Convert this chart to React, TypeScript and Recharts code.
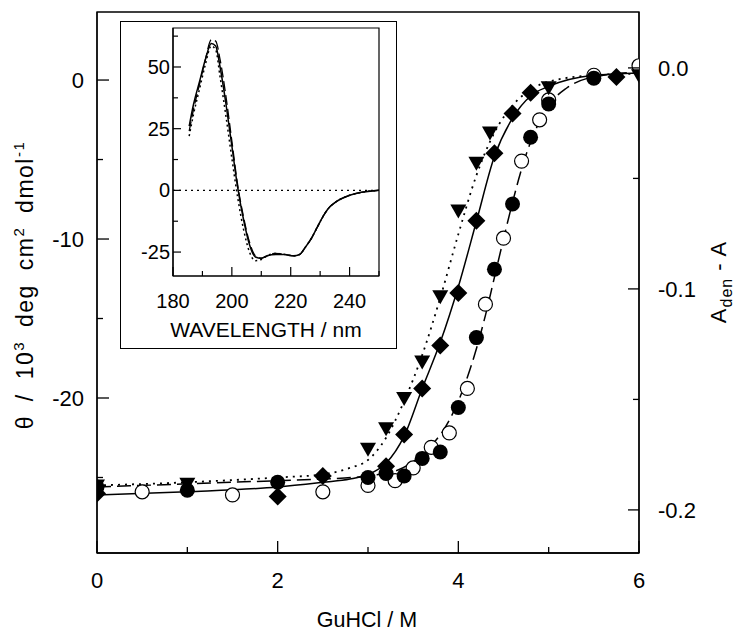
import { ComposedChart, LineChart, Line, Scatter, XAxis, YAxis, ReferenceArea, ReferenceLine } from "recharts";

const FONT = '"Liberation Sans", Arial, Helvetica, sans-serif';

// main plot: GuHCl (M) vs theta (10^3 deg cm2 dmol-1)
const triX = [0, 1, 3.0, 3.2, 3.4, 3.6, 3.8, 4.0, 4.2, 4.35, 5.0, 6.0];
const triY = [-25.5, -25.4, -23.2, -21.9, -20.0, -17.7, -13.6, -8.2, -5.2, -3.3, -0.45, 0.3];

const diaX = [0, 2, 2.5, 3.2, 3.4, 3.6, 3.8, 4.0, 4.2, 4.4, 4.6, 4.8, 5.75];
const diaY = [-26.0, -26.2, -24.9, -24.3, -22.3, -19.4, -16.7, -13.4, -8.85, -4.6, -2.1, -0.8, 0.19];

const dotX = [0, 1, 2, 3.0, 3.2, 3.4, 3.6, 3.8, 4.0, 4.2, 4.4, 4.6, 4.8, 5.0, 5.5];
const dotY = [-25.6, -25.8, -25.3, -25.0, -24.75, -24.9, -23.8, -23.4, -20.6, -16.2, -11.9, -7.8, -3.6, -1.5, 0.12];

const ringX = [0.5, 1.5, 2.5, 3.0, 3.3, 3.5, 3.7, 3.9, 4.1, 4.3, 4.5, 4.7, 4.9, 5.0, 5.5, 6.0];
const ringY = [-25.9, -26.1, -25.9, -25.5, -25.2, -24.4, -23.1, -22.2, -19.4, -14.1, -9.95, -5.1, -2.5, -1.25, 0.3, 0.9];

// fitted curves
const fitDotX = [0, 1, 2, 2.5, 2.8, 3.0, 3.2, 3.4, 3.6, 3.8, 4.0, 4.2, 4.4, 4.6, 4.8, 5.0, 5.5, 6.0];
const fitDotY = [-25.5, -25.3, -25.0, -24.8, -24.4, -23.9, -22.5, -20.2, -17.3, -13.7, -9.7, -6.0, -3.3, -1.6, -0.6, -0.1, 0.3, 0.4];

const fitSolidX = [0, 1, 2, 2.5, 2.8, 3.0, 3.2, 3.4, 3.6, 3.8, 4.0, 4.2, 4.4, 4.6, 4.8, 5.0, 5.5, 6.0];
const fitSolidY = [-26.1, -25.9, -25.6, -25.3, -25.1, -24.8, -24.1, -22.4, -19.4, -16.5, -13.0, -8.9, -4.8, -2.4, -1.0, -0.4, 0.3, 0.45];

const fitDashX = [0, 1, 2, 2.5, 3.0, 3.3, 3.5, 3.7, 3.9, 4.0, 4.1, 4.2, 4.3, 4.4, 4.5, 4.6, 4.7, 4.8, 4.9, 5.0, 5.2, 5.5, 6.0];
const fitDashY = [-25.6, -25.4, -25.2, -25.1, -24.9, -24.6, -24.0, -23.0, -21.4, -20.2, -18.7, -16.9, -14.8, -12.4, -10.0, -7.7, -5.6, -3.9, -2.6, -1.6, -0.5, 0.2, 0.5];

const xTicks = [0, 1, 2, 3, 4, 5, 6];
const leftTicks = [-25, -20, -15, -10, -5, 0];
const rightTicks = [-0.2, -0.15, -0.1, -0.05, 0];

// inset: CD spectra
const lambda = [185.5, 187, 189, 191, 193, 194.5, 196, 198, 200, 202, 204, 206, 208, 210, 212, 215, 218, 221, 223, 225, 227, 229, 231, 233, 235, 237, 240, 244, 248, 250];
const specSolid = [26, 35, 44, 53, 59.5, 58.5, 50, 35, 18, 1, -12, -22, -27, -27.5, -26.5, -26, -26, -26.5, -26, -23, -19.5, -15, -10.5, -7, -5, -3.5, -2, -0.8, -0.2, 0];
const specDash = [24, 33, 43, 53, 61, 60.5, 53, 38, 20, 2, -11, -21, -26.5, -27.5, -26.5, -25.5, -26, -26.5, -26, -23, -19.5, -15, -10.5, -7, -5, -3.5, -2, -0.8, -0.2, 0];
const specDot = [22, 31, 41, 51, 58.5, 57, 46, 30, 13, -3, -16, -25, -28.5, -28, -26.5, -25.5, -26, -26.5, -26, -23, -19.5, -15, -10.5, -7, -5, -3.5, -2, -0.8, -0.2, 0];
const insetXTicks = [180, 190, 200, 210, 220, 230, 240, 250];
const insetYTicks = [-25, -12.5, 0, 12.5, 25, 37.5, 50, 62.5];

const pts = (xs: number[], ys: number[]) => xs.map((x, i) => ({ x, y: ys[i] }));
const spec = (ys: number[]) => lambda.map((x, i) => ({ x, y: ys[i] }));

const TriDown = ({ cx, cy }: any) => (
  <path d={`M${cx - 8},${cy - 6} L${cx + 8},${cy - 6} L${cx},${cy + 8} Z`} fill="#000" />
);
const Diamond = ({ cx, cy }: any) => (
  <path d={`M${cx},${cy - 9} L${cx + 9},${cy} L${cx},${cy + 9} L${cx - 9},${cy} Z`} fill="#000" />
);
const Dot = ({ cx, cy }: any) => <circle cx={cx} cy={cy} r={7.5} fill="#000" />;
const Ring = ({ cx, cy }: any) => <circle cx={cx} cy={cy} r={7} fill="#fff" stroke="#000" strokeWidth={1.2} />;

const MainXTick = ({ x, y, payload }: any) => {
  const v = payload.value;
  const major = v % 2 === 0;
  return (
    <g>
      <line x1={x} y1={y} x2={x} y2={y - (major ? 12 : 6)} stroke="#000" strokeWidth={1.3} />
      {major && (
        <text x={x} y={y + 35} textAnchor="middle" fontSize={22} fontFamily={FONT} fill="#000">{v}</text>
      )}
    </g>
  );
};

const LeftTick = ({ x, y, payload }: any) => {
  const v = payload.value;
  const major = v % 10 === 0;
  return (
    <g>
      <line x1={x} y1={y} x2={x + (major ? 12 : 6)} y2={y} stroke="#000" strokeWidth={1.3} />
      {major && (
        <text x={x - 13} y={y + 8} textAnchor="end" fontSize={22} fontFamily={FONT} fill="#000">{v}</text>
      )}
    </g>
  );
};

const RightTick = ({ x, y, payload }: any) => {
  const v = payload.value;
  const major = Math.abs(v * 10 - Math.round(v * 10)) < 1e-6;
  return (
    <g>
      <line x1={x} y1={y} x2={x - (major ? 11 : 6)} y2={y} stroke="#000" strokeWidth={1.3} />
      {major && (
        <text x={x + 19} y={y + 8} textAnchor="start" fontSize={22} fontFamily={FONT} fill="#000">{v.toFixed(1)}</text>
      )}
    </g>
  );
};

const InsetXTick = ({ x, y, payload }: any) => {
  const v = payload.value;
  const major = v % 20 === 0;
  return (
    <g>
      <line x1={x} y1={y} x2={x} y2={y - (major ? 9 : 5)} stroke="#000" strokeWidth={1.2} />
      {major && (
        <text x={x} y={y + 32} textAnchor="middle" fontSize={20} fontFamily={FONT} fill="#000">{v}</text>
      )}
    </g>
  );
};

const InsetYTick = ({ x, y, payload }: any) => {
  const v = payload.value;
  const major = v % 25 === 0;
  return (
    <g>
      <line x1={x} y1={y} x2={x + (major ? 8 : 5)} y2={y} stroke="#000" strokeWidth={1.2} />
      {major && (
        <text x={x - 3} y={y + 7} textAnchor="end" fontSize={20} fontFamily={FONT} fill="#000">{v}</text>
      )}
    </g>
  );
};

const LeftTitle = () => (
  <text transform="translate(33,285) rotate(-90)" textAnchor="middle" fontSize={23} fontFamily={FONT} fill="#000" letterSpacing={1.5} wordSpacing={6}>
    θ / 10<tspan dy={-9} fontSize={15}>3</tspan>
    <tspan dy={9}> deg cm</tspan>
    <tspan dy={-9} fontSize={15}>2</tspan>
    <tspan dy={9}> dmol</tspan>
    <tspan dy={-9} fontSize={15}>-1</tspan>
  </text>
);

const RightTitle = () => (
  <text transform="translate(726,282) rotate(-90)" textAnchor="middle" fontSize={22} fontFamily={FONT} fill="#000" letterSpacing={1}>
    A<tspan dy={6} fontSize={16}>den</tspan>
    <tspan dy={-6}> - A</tspan>
  </text>
);

const XTitle = () => (
  <text x={367} y={627} textAnchor="middle" fontSize={21.5} fontFamily={FONT} fill="#000">GuHCl / M</text>
);

const InsetXTitle = () => (
  <text x={146} y={316} textAnchor="middle" fontSize={21} fontFamily={FONT} fill="#000">WAVELENGTH / nm</text>
);

export default function App() {
  return (
    <div style={{ position: "absolute", left: 0, top: 0, width: 744, height: 639, background: "#fff" }}>
      <ComposedChart width={744} height={639} margin={{ top: 12, right: 0, bottom: 0, left: 0 }}>
        <XAxis
          type="number"
          dataKey="x"
          domain={[0, 6]}
          ticks={xTicks}
          allowDataOverflow
          height={86}
          tickSize={0}
          tickMargin={0}
          tick={<MainXTick />}
          axisLine={{ stroke: "#000", strokeWidth: 1.3 }}
          label={<XTitle />}
        />
        <YAxis
          yAxisId="left"
          type="number"
          dataKey="y"
          domain={[-29.75, 4.28]}
          ticks={leftTicks}
          allowDataOverflow
          width={97}
          tickSize={0}
          tickMargin={0}
          tick={<LeftTick />}
          axisLine={{ stroke: "#000", strokeWidth: 1.3 }}
          label={<LeftTitle />}
        />
        <YAxis
          yAxisId="right"
          orientation="right"
          type="number"
          domain={[-0.2195, 0.0253]}
          ticks={rightTicks}
          allowDataOverflow
          width={105}
          tickSize={0}
          tickMargin={0}
          tick={<RightTick />}
          axisLine={{ stroke: "#000", strokeWidth: 1.3 }}
          label={<RightTitle />}
        />
        <ReferenceArea yAxisId="left" x1={0} x2={6} y1={-29.75} y2={4.28} fill="none" stroke="#000" strokeWidth={1.3} ifOverflow="visible" />
        <Line yAxisId="left" data={pts(fitDotX, fitDotY)} dataKey="y" type="monotone" stroke="#000" strokeWidth={1.8} strokeDasharray="2 5" dot={false} isAnimationActive={false} />
        <Line yAxisId="left" data={pts(fitSolidX, fitSolidY)} dataKey="y" type="monotone" stroke="#000" strokeWidth={1.5} dot={false} isAnimationActive={false} />
        <Line yAxisId="left" data={pts(fitDashX, fitDashY)} dataKey="y" type="monotone" stroke="#000" strokeWidth={1.5} strokeDasharray="14 6" dot={false} isAnimationActive={false} />
        <Scatter yAxisId="left" data={pts(ringX, ringY)} shape={<Ring />} isAnimationActive={false} />
        <Scatter yAxisId="left" data={pts(dotX, dotY)} shape={<Dot />} isAnimationActive={false} />
        <Scatter yAxisId="left" data={pts(diaX, diaY)} shape={<Diamond />} isAnimationActive={false} />
        <Scatter yAxisId="left" data={pts(triX, triY)} shape={<TriDown />} isAnimationActive={false} />
      </ComposedChart>

      <div style={{ position: "absolute", left: 120, top: 21, width: 277, height: 328, border: "1.3px solid #000", boxSizing: "border-box", background: "#fff" }}>
        <div style={{ position: "absolute", left: -1, top: -1 }}>
          <LineChart width={277} height={328} margin={{ top: 7, right: 18, bottom: 0, left: 0 }}>
            <XAxis
              type="number"
              dataKey="x"
              domain={[180, 250]}
              ticks={insetXTicks}
              allowDataOverflow
              height={73}
              tickSize={0}
              tickMargin={0}
              tick={<InsetXTick />}
              axisLine={{ stroke: "#000", strokeWidth: 1.2 }}
              label={<InsetXTitle />}
            />
            <YAxis
              type="number"
              dataKey="y"
              domain={[-34.7, 65.8]}
              ticks={insetYTicks}
              allowDataOverflow
              width={53}
              tickSize={0}
              tickMargin={0}
              tick={<InsetYTick />}
              axisLine={{ stroke: "#000", strokeWidth: 1.2 }}
            />
            <ReferenceArea x1={180} x2={250} y1={-34.7} y2={65.8} fill="none" stroke="#000" strokeWidth={1.2} ifOverflow="visible" />
            <ReferenceLine y={0} stroke="#000" strokeWidth={1.2} strokeDasharray="2 4" />
            <Line data={spec(specDot)} dataKey="y" type="monotone" stroke="#000" strokeWidth={1.5} strokeDasharray="2 3" dot={false} isAnimationActive={false} />
            <Line data={spec(specDash)} dataKey="y" type="monotone" stroke="#000" strokeWidth={1.3} strokeDasharray="10 4" dot={false} isAnimationActive={false} />
            <Line data={spec(specSolid)} dataKey="y" type="monotone" stroke="#000" strokeWidth={1.5} dot={false} isAnimationActive={false} />
          </LineChart>
        </div>
      </div>
    </div>
  );
}
